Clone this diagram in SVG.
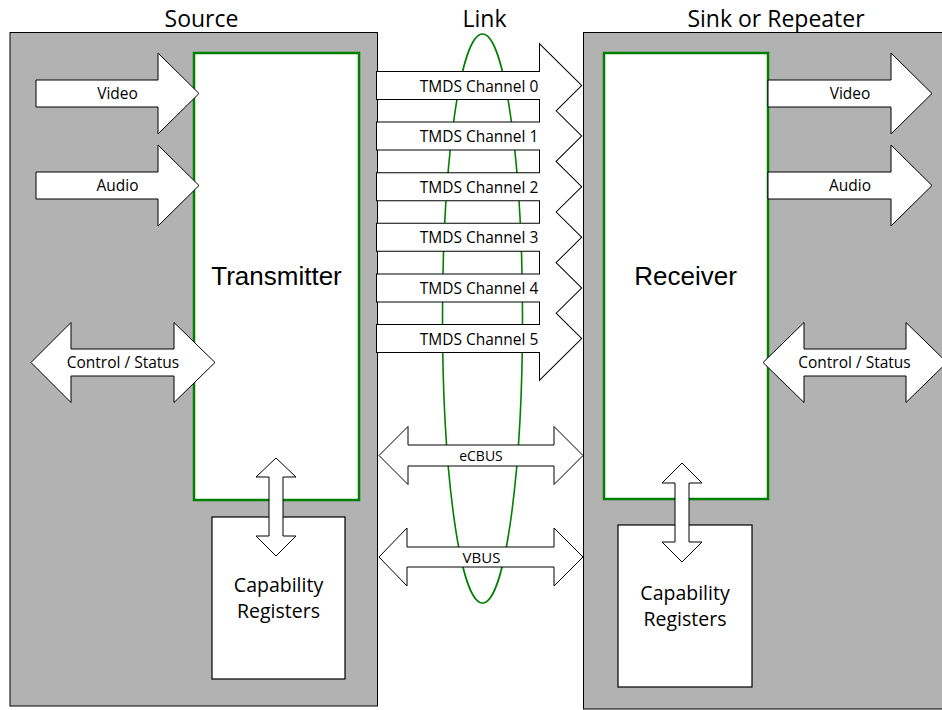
<svg xmlns="http://www.w3.org/2000/svg" xmlns:xlink="http://www.w3.org/1999/xlink" width="942" height="710" viewBox="0 0 942 710">
<style>
.box{fill:#b2b2b2;stroke:#000;stroke-width:1}
.blk{fill:#fff;stroke:#008000;stroke-width:2.5}
.cap{fill:#fff;stroke:#000;stroke-width:1.2}
.arr{fill:#fff;stroke:#000;stroke-width:1}
.t{font-family:"Open Sans","Noto Sans",sans-serif;fill:#000;text-anchor:middle}
.ta{font-family:"Liberation Sans",Arial,sans-serif;fill:#000;text-anchor:middle}
.title{font-size:23px}
.lbl{font-size:15.5px}
</style>
<defs>
<path id="c0" d="M377,72 H540 V45 L581,85.5 L540,126 V99 H377 Z"/>
<path id="c1" d="M377,122.6 H540 V95.6 L581,136.1 L540,176.6 V149.6 H377 Z"/>
<path id="c2" d="M377,173.2 H540 V146.2 L581,186.7 L540,227.2 V200.2 H377 Z"/>
<path id="c3" d="M377,223.8 H540 V196.8 L581,237.3 L540,277.8 V250.8 H377 Z"/>
<path id="c4" d="M377,274.4 H540 V247.4 L581,287.9 L540,328.4 V301.4 H377 Z"/>
<path id="c5" d="M377,325 H540 V298 L581,338.5 L540,379 V352 H377 Z"/>
</defs>
<rect width="942" height="710" fill="#fff"/>
<g id="titles">
<text class="t title" x="201.5" y="27">Source</text>
<text class="t title" x="484.5" y="27">Link</text>
<text class="t title" x="776" y="27">Sink or Repeater</text>
</g>
<g id="source"><rect class="box" x="10" y="32.5" width="367.5" height="673.5"/></g>
<g id="sink"><rect class="box" x="583.5" y="32.5" width="370" height="676.5"/></g>
<g id="link"><ellipse cx="482.5" cy="318.5" rx="40" ry="284.5" fill="none" stroke="#008000" stroke-width="1.6"/></g>
<g id="transmitter">
<rect class="blk" x="194" y="53" width="165" height="447"/>
<text class="ta" x="276.5" y="285" font-size="26">Transmitter</text>
</g>
<g id="receiver">
<rect class="blk" x="604" y="53" width="164" height="446"/>
<text class="ta" x="685.5" y="285" font-size="26">Receiver</text>
</g>
<g id="cap-source">
<rect class="cap" x="212" y="517" width="133" height="162"/>
<text class="t" x="278.5" y="592" font-size="19.5">Capability</text>
<text class="t" x="278.5" y="618" font-size="19.5">Registers</text>
</g>
<g id="cap-sink">
<rect class="cap" x="618" y="525" width="134" height="162"/>
<text class="t" x="685" y="600" font-size="19.5">Capability</text>
<text class="t" x="685" y="626" font-size="19.5">Registers</text>
</g>
<g id="connectors">
<g id="tmds" stroke="#000" stroke-width="2" fill="#fff">
<use xlink:href="#c0"/><use xlink:href="#c1"/><use xlink:href="#c2"/><use xlink:href="#c3"/><use xlink:href="#c4"/><use xlink:href="#c5"/>
</g>
<g stroke="none" fill="#fff">
<use xlink:href="#c0"/><use xlink:href="#c1"/><use xlink:href="#c2"/><use xlink:href="#c3"/><use xlink:href="#c4"/><use xlink:href="#c5"/>
</g>
<g class="lbl">
<text class="t lbl" x="479" y="91.5">TMDS Channel 0</text>
<text class="t lbl" x="479" y="142.1">TMDS Channel 1</text>
<text class="t lbl" x="479" y="192.7">TMDS Channel 2</text>
<text class="t lbl" x="479" y="243.3">TMDS Channel 3</text>
<text class="t lbl" x="479" y="293.9">TMDS Channel 4</text>
<text class="t lbl" x="479" y="344.5">TMDS Channel 5</text>
</g>
<path class="arr" d="M379,455.5 L408,426.5 V445 H554 V426.5 L583,455.5 L554,484.5 V466 H408 V484.5 Z"/>
<text class="t" x="481" y="461" font-size="14">eCBUS</text>
<path class="arr" d="M379,557 L407,528 V547 H554 V528 L583,557 L554,586 V567 H407 V586 Z"/>
<text class="t" x="481.5" y="562.5" font-size="15">VBUS</text>
<path class="arr" d="M36,80 H158 V53 L199,93.5 L158,134 V107 H36 Z"/>
<text class="t lbl" x="117.5" y="99">Video</text>
<path class="arr" d="M36,172 H158 V145 L199,185.5 L158,226 V199 H36 Z"/>
<text class="t lbl" x="117.5" y="191">Audio</text>
<path class="arr" d="M31,362.5 L71,322.5 V349 H174 V322.5 L215,362.5 L174,402.5 V376 H71 V402.5 Z"/>
<text class="t lbl" x="123" y="368">Control / Status</text>
<path class="arr" d="M768,80 H891 V53 L932,93.5 L891,134 V107 H768 Z"/>
<text class="t lbl" x="850" y="99">Video</text>
<path class="arr" d="M768,172 H891 V145 L932,185.5 L891,226 V199 H768 Z"/>
<text class="t lbl" x="850" y="191">Audio</text>
<path class="arr" d="M763,362.5 L804,322.5 V349 H906 V322.5 L947,362.5 L906,402.5 V376 H804 V402.5 Z"/>
<text class="t lbl" x="854.5" y="368">Control / Status</text>
<path class="arr" d="M276,458 L296,477 H283 V536 H296 L276,556 L256,536 H269 V477 H256 Z"/>
<path class="arr" d="M682,463 L702,483 H689 V542 H702 L682,562 L662,542 H675 V483 H662 Z"/>
</g>
</svg>
